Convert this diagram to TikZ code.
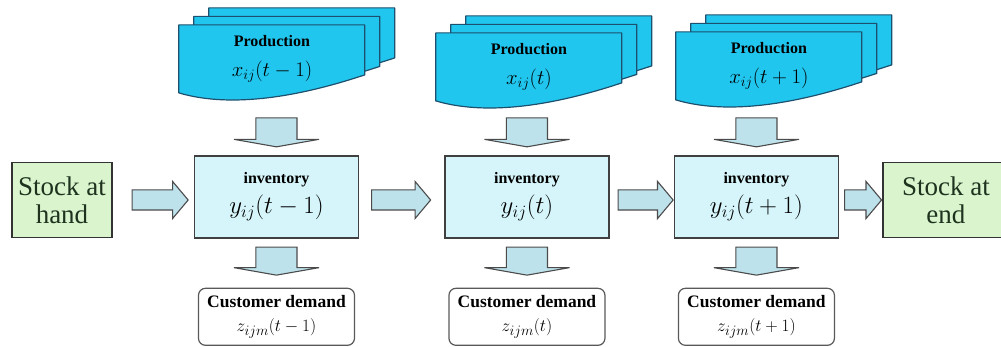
\documentclass[tikz,border=0pt]{standalone}
\usepackage{fontspec}
\setmainfont{Liberation Serif}
\usetikzlibrary{positioning,shapes.arrows,backgrounds}

\definecolor{stockfill}{RGB}{218,245,206}
\definecolor{stocktext}{RGB}{30,50,30}
\definecolor{invfill}{RGB}{214,245,251}
\definecolor{prodfill}{RGB}{33,198,238}
\definecolor{proddraw}{RGB}{28,80,110}
\definecolor{arrfill}{RGB}{190,226,236}
\definecolor{arrdraw}{RGB}{75,75,75}

\begin{document}
\begin{tikzpicture}[x=1pt,y=1pt,
 stock/.style={draw=black!80,fill=stockfill,line width=1.2pt,minimum width=100pt,minimum height=75pt,align=center,text=stocktext,font=\fontsize{27}{28}\selectfont},
 inv/.style={draw=black!75,fill=invfill,line width=1.2pt,minimum width=164pt,minimum height=82pt,align=center,font=\fontsize{24}{30}\selectfont},
 prod/.style={minimum width=186pt,minimum height=68pt,inner sep=0pt,align=center,font=\fontsize{22}{30}\selectfont},
 sheet/.style={draw=proddraw,fill=prodfill,line width=1.2pt,line join=round},
 dem/.style={draw=black!65,fill=white,rounded corners=7pt,line width=1.2pt,minimum width=156pt,minimum height=57pt,inner sep=2pt,align=center,font=\fontsize{19}{24}\selectfont},
 rarr/.style={single arrow,draw=arrdraw,fill=arrfill,line width=1.1pt,inner xsep=0pt,inner ysep=9.5pt,single arrow head extend=8.5pt,single arrow tip angle=100},
 darr/.style={single arrow,shape border rotate=270,draw=arrdraw,fill=arrfill,line width=1.1pt,inner xsep=20pt,inner ysep=0pt,minimum height=29pt,single arrow head extend=22pt,single arrow tip angle=160}]
\useasboundingbox (0,0) rectangle (1001,347);
\node[stock] (stockhand) at (62,147) {Stock at\\hand};
\node[rarr,minimum height=56pt,right=19pt of stockhand] (r0) {};
\node[inv,right=5pt of r0,yshift=3pt] (inv1) {{\fontsize{16}{30}\selectfont\bfseries inventory}\\$y_{ij}(t-1)$};
\node[rarr,minimum height=59pt,right=12pt of inv1,yshift=-3pt] (r1) {};
\node[inv,right=13pt of r1,yshift=3pt] (inv2) {{\fontsize{16}{30}\selectfont\bfseries inventory}\\$y_{ij}(t)$};
\node[rarr,minimum height=55pt,right=8pt of inv2,yshift=-3pt] (r2) {};
\node[inv,right=0pt of r2,yshift=3pt] (inv3) {{\fontsize{16}{30}\selectfont\bfseries inventory}\\$y_{ij}(t+1)$};
\node[rarr,minimum height=37pt,right=5pt of inv3,yshift=-3pt] (r3) {};
\node[stock,minimum width=126pt,right=0pt of r3] (stockend) {Stock at\\end};
\node[darr,above=8pt of inv1] (u1) {};
\node[darr,above=8pt of inv2] (u2) {};
\node[darr,above=8pt of inv3] (u3) {};
\node[prod,above=24pt of u1,xshift=-4.5pt] (prod1) {{\fontsize{16}{30}\selectfont\bfseries Production}\\$x_{ij}(t-1)$};
\node[prod,above=16pt of u2,xshift=2pt] (prod2) {{\fontsize{16}{30}\selectfont\bfseries Production}\\$x_{ij}(t)$};
\node[prod,above=17pt of u3,xshift=12.5pt] (prod3) {{\fontsize{16}{30}\selectfont\bfseries Production}\\$x_{ij}(t+1)$};
\node[darr,minimum height=28pt,below=8pt of inv1] (o1) {};
\node[darr,minimum height=28pt,below=8pt of inv2] (o2) {};
\node[darr,minimum height=28pt,below=8pt of inv3] (o3) {};
\node[dem,below=12pt of o1] (dem1) {{\fontsize{17.5}{24}\selectfont\bfseries Customer demand}\\$z_{ijm}(t-1)$};
\node[dem,below=12pt of o2] (dem2) {{\fontsize{17.5}{24}\selectfont\bfseries Customer demand}\\$z_{ijm}(t)$};
\node[dem,below=12pt of o3] (dem3) {{\fontsize{17.5}{24}\selectfont\bfseries Customer demand}\\$z_{ijm}(t+1)$};
\begin{scope}[on background layer]
\foreach \p in {prod1,prod2,prod3}
 \foreach \k in {2,1,0}
  \draw[sheet] ([shift={(15*\k,8.5*\k)}]\p.north west) -- ++(186,0) -- ++(0,-50)
   .. controls +(-75,-25) and +(47,-14) .. ++(-186,-18) -- cycle;
\end{scope}
\end{tikzpicture}
\end{document}
